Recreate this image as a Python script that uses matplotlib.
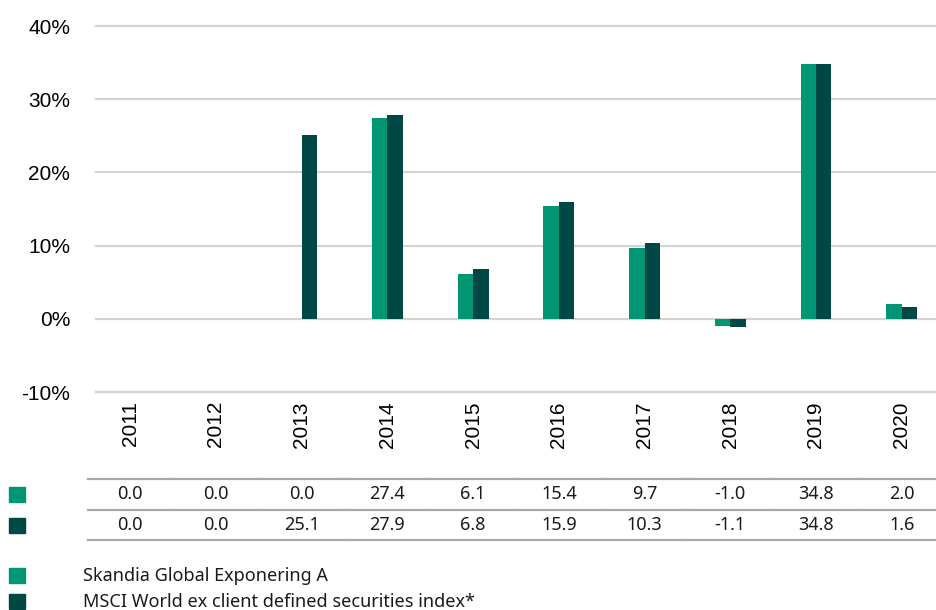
import numpy as np
import matplotlib
matplotlib.use('Agg')
from matplotlib import pyplot as plt
from matplotlib import transforms
from matplotlib.lines import Line2D
from matplotlib.patches import Rectangle

years = ['2011', '2012', '2013', '2014', '2015', '2016', '2017', '2018', '2019', '2020']
skandia = [0.0, 0.0, 0.0, 27.4, 6.1, 15.4, 9.7, -1.0, 34.8, 2.0]
msci = [0.0, 0.0, 25.1, 27.9, 6.8, 15.9, 10.3, -1.1, 34.8, 1.6]
series_names = ['Skandia Global Exponering A', 'MSCI World ex client defined securities index*']
yticks = [-10, 0, 10, 20, 30, 40]

c_fund = '#009673'
c_index = '#004846'
c_grid = '#d3d3d3'

W, H = 937, 610
fig = plt.figure(figsize=(W / 100, H / 100), dpi=100, facecolor='w')

def fx(px):
    return px / W

def fy(py):
    return 1 - py / H

ax = fig.add_axes([fx(96), fy(392), fx(936) - fx(96), fy(26) - fy(392)])

x = np.arange(len(years))
bw = 0.18
ax.bar(x - bw / 2, skandia, bw, color=c_fund, zorder=3)
ax.bar(x + bw / 2, msci, bw, color=c_index, zorder=3)

ax.set_xlim(-0.4, 9.4)
ax.set_ylim(-10, 40)
for v in yticks:
    ax.axhline(v, color=c_grid, lw=1.6, zorder=1, clip_on=False)

for s in ax.spines.values():
    s.set_visible(False)
ax.set_yticks(yticks)
ax.set_yticklabels(['{}%'.format(v) for v in yticks], fontsize=15, family='Liberation Sans')
ax.set_xticks(x)
ax.set_xticklabels(years, rotation=90, fontsize=15, family='Liberation Sans', va='top')
ax.tick_params(axis='y', length=0, pad=18.5)
ax.tick_params(axis='x', length=0, pad=6.5)

# data table under the chart
tr = transforms.blended_transform_factory(ax.transData, fig.transFigure)
table_font = 'Noto Sans'
row_y = [494, 525]
line_y = [479, 510, 540]
for ly in line_y:
    for i in range(len(years)):
        fig.add_artist(Line2D([i - 0.5 + 0.01, i + 0.5 - 0.01], [fy(ly), fy(ly)],
                              transform=tr, color='#a8a8a8', lw=1.6))
for vals, ry in zip([skandia, msci], row_y):
    for i, v in enumerate(vals):
        fig.text(i, fy(ry), '{:.1f}'.format(v), transform=tr, ha='center', va='center',
                 fontsize=13, family=table_font, color='#1a1a1a')

# colour keys for the table rows
for col, ry in zip([c_fund, c_index], row_y):
    fig.add_artist(Rectangle((fx(9), fy(ry + 8)), fx(16), fy(0) - fy(15),
                             transform=fig.transFigure, color=col))

# legend
leg_y = [576, 602]
for col, ly, name in zip([c_fund, c_index], leg_y, series_names):
    fig.add_artist(Rectangle((fx(9), fy(ly + 7)), fx(16), fy(0) - fy(15),
                             transform=fig.transFigure, color=col))
    fig.text(fx(83), fy(ly), name, ha='left', va='center', fontsize=13,
             family=table_font, color='#1a1a1a')

fig.savefig('out.png', dpi=100)
plt.close()
